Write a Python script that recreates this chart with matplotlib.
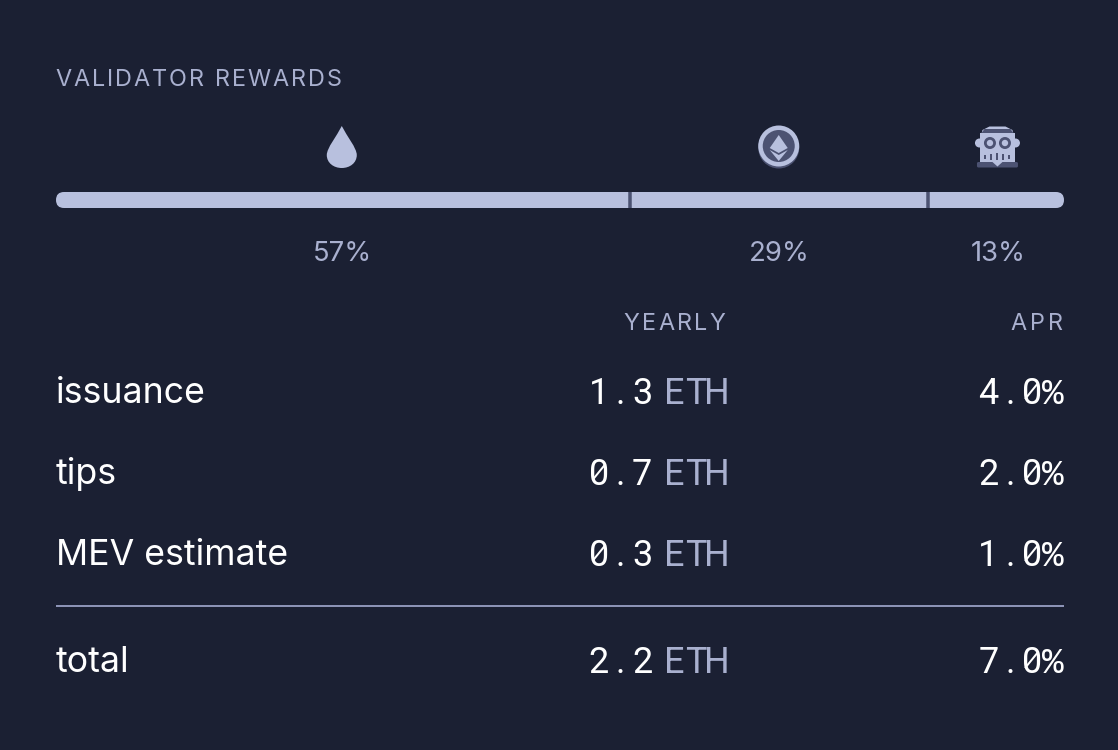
import matplotlib
matplotlib.use("Agg")
import matplotlib.pyplot as plt
from matplotlib.font_manager import FontProperties
from matplotlib.patches import Circle, FancyBboxPatch, PathPatch, Polygon, Rectangle
from matplotlib.path import Path

BG = "#1b2033"
BAR = "#b8c0de"
MUTED = "#a9b0cf"
DIM = "#4c5272"
WHITE = "#ffffff"

title = "VALIDATOR REWARDS"
shares = [56.9, 29.6, 13.5]
share_labels = ["57%", "29%", "13%"]
col_heads = ["YEARLY", "APR"]
rows = ["issuance", "tips", "MEV estimate", "total"]
yearly = ["1.3", "0.7", "0.3", "2.2"]
apr = ["4.0%", "2.0%", "1.0%", "7.0%"]

fig = plt.figure(figsize=(11.18, 7.5), dpi=100, facecolor=BG)
ax = fig.add_axes([0, 0, 1, 1])
ax.set_xlim(0, 1118)
ax.set_ylim(750, 0)
ax.axis("off")

px = 72 / 100  # pt per pixel


def spaced(x, y, s, size, color, spacing, family="Inter", ha="left"):
    # matplotlib has no letter spacing, so lay the letters out one by one
    fp = FontProperties(family=family, size=size * px)
    r = fig.canvas.get_renderer()
    adv = lambda t: r.get_text_width_height_descent(t + "|", fp, False)[0] - r.get_text_width_height_descent("|", fp, False)[0]
    total = adv(s) + spacing * (len(s) - 1)
    x0 = x - total if ha == "right" else x
    for i, c in enumerate(s):
        ax.text(x0 + adv(s[:i]) + spacing * i, y, c, fontproperties=fp, color=color, ha="left", va="baseline")


def mono(x, y, s, color, cell=21.6):
    # fixed cells, right edge at x; no installed mono font fits, so pick per glyph
    for i, c in enumerate(s):
        cx = x - (len(s) - i - 0.5) * cell
        if c == "%":
            ax.text(cx, y, c, color=color, fontsize=36 * px, family="Liberation Mono", ha="center", va="baseline")
        else:
            ax.text(cx, y, c, color=color, fontsize=36 * px, family="Roboto", ha="center", va="baseline")
        if c == "0":
            # slashed zero
            ax.plot([cx - 6.5, cx + 6.5], [y - 5, y - 21], color=color, lw=2 * px, solid_capstyle="butt")


def drop(cx):
    verts = [(cx, 126), (cx + 5, 136), (cx + 15, 148), (cx + 15, 155),
             (cx + 15, 163), (cx + 8, 168), (cx, 168),
             (cx - 8, 168), (cx - 15, 163), (cx - 15, 155),
             (cx - 15, 148), (cx - 5, 136), (cx, 126)]
    codes = [Path.MOVETO] + [Path.CURVE4] * 12
    ax.add_patch(PathPatch(Path(verts, codes), fc=BAR, ec="none"))


def eth(cx):
    cy = 146
    ax.add_patch(Circle((cx, cy + 2), 20.5, fc=DIM, ec="none"))
    ax.add_patch(Circle((cx, cy), 20.5, fc=BAR, ec="none"))
    ax.add_patch(Circle((cx, cy), 16, fc=DIM, ec="none"))
    ax.add_patch(Polygon([(cx, cy - 11), (cx + 9, cy + 2), (cx, cy + 7), (cx - 9, cy + 2)], fc=BAR, ec="none"))
    ax.add_patch(Polygon([(cx - 9, cy + 4), (cx, cy + 9), (cx + 9, cy + 4), (cx, cy + 15)], fc=BAR, ec="none"))


def robot(cx):
    ax.add_patch(Circle((cx - 18, 143), 4.5, fc=BAR, ec="none"))
    ax.add_patch(Circle((cx + 18, 143), 4.5, fc=BAR, ec="none"))
    ax.add_patch(Polygon([(cx - 15, 130), (cx - 8, 126.5), (cx + 8, 126.5), (cx + 15, 130), (cx + 16, 134), (cx - 16, 134)], fc=BAR, ec="none"))
    ax.add_patch(Polygon([(cx - 16, 133), (cx - 13, 129), (cx + 13, 129), (cx + 16, 133)], fc=DIM, ec="none"))
    ax.add_patch(Rectangle((cx - 17.5, 133), 35, 29, fc=BAR, ec="none"))
    ax.add_patch(FancyBboxPatch((cx - 20.5, 162), 41, 5.5, boxstyle="round,pad=0,rounding_size=1.5", fc=DIM, ec="none"))
    ax.add_patch(Polygon([(cx - 5, 162), (cx + 5, 162), (cx, 166.5)], fc=BAR, ec="none"))
    for dx in (-7.5, 7.5):
        ax.add_patch(Circle((cx + dx, 143), 4.6, fc=BAR, ec=DIM, lw=2.0))
    for dx, h in zip((-12, -6, 0, 6, 12), (2, 3, 3.5, 3, 2)):
        ax.add_patch(Rectangle((cx + dx - 1, 156.5 - h), 2, h * 2, fc=DIM, ec="none"))


spaced(55.5, 86, title, 23.4, MUTED, 2.0)

# bar, one segment per share, then rounded ends
BAR_X, BAR_W = 56, 1008
clip = FancyBboxPatch((BAR_X, 192), BAR_W, 16, boxstyle="round,pad=0,rounding_size=8", fc="none", ec="none")
ax.add_patch(clip)
left = 0
centers = []
for i, s in enumerate(shares):
    w = s / sum(shares) * BAR_W
    seg = ax.barh(200, w, height=16, left=BAR_X + left, color=BAR, linewidth=0)[0]
    seg.set_clip_path(clip)
    centers.append(BAR_X + left + w / 2)
    left += w
    if i < len(shares) - 1:
        ax.plot([BAR_X + left] * 2, [192, 208], color=DIM, lw=3.5 * px, solid_capstyle="butt")

drop(centers[0] - 1)
eth(centers[1])
robot(centers[2] + 1.5)

for c, lab, nudge in zip(centers, share_labels, (0, 1, 2)):
    ax.text(c + nudge, 261, lab, color=MUTED, fontsize=27.5 * px, family="Inter", ha="center", va="baseline")

spaced(725.5, 330, col_heads[0], 23.4, MUTED, 2.4, ha="right")
spaced(1062.5, 330, col_heads[1], 23.4, MUTED, 2.8, ha="right")

baselines = [403, 484, 565, 672]
for name, y, yr, ap in zip(rows, baselines, yearly, apr):
    ax.text(56, y, name, color=WHITE, fontsize=35.7 * px, family="Inter", ha="left", va="baseline")
    mono(653, y + 1, yr, WHITE)
    mono(728, y + 1, "ETH", MUTED)
    mono(1064, y + 1, ap, WHITE)

ax.plot([56, 1064], [606, 606], color="#8c93b6", lw=2 * px, solid_capstyle="butt")

ax.set_xlim(0, 1118)
ax.set_ylim(750, 0)
fig.savefig("out.png", dpi=100, facecolor=BG)
